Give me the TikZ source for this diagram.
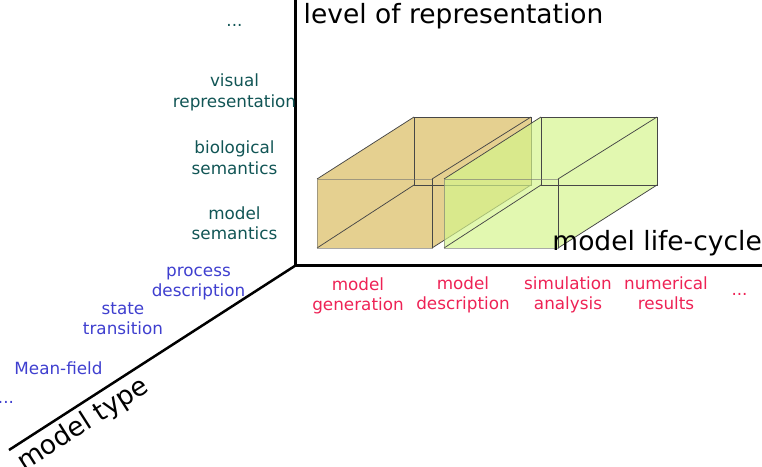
\documentclass[tikz,border=0pt]{standalone}
\usepackage{fontspec}
\setmainfont{DejaVu Sans}
\definecolor{tealc}{HTML}{115555}
\definecolor{bluec}{HTML}{3F3FCF}
\definecolor{redc}{HTML}{EE2255}
\definecolor{orfill}{HTML}{E5D090}
\definecolor{grfill}{RGB}{212,245,139}
\begin{document}
\begin{tikzpicture}[x=1pt,y=-1pt,
  axis/.style={line width=2.5pt},
  lbl/.style={font=\fontsize{16.8}{20.5}\selectfont, align=center, inner sep=0pt},
  bigl/.style={font=\fontsize{26.5}{31}\selectfont, inner sep=0pt},
  boxedge/.style={draw=black!72, line width=0.75pt},
  frontedge/.style={draw=black!55, draw opacity=0.6, line width=0.75pt},
]
\useasboundingbox (0,0) rectangle (762,466);

% axes
\coordinate (T) at (295.5,0);
\coordinate (O) at (295.5,265.5);
\coordinate (R) at (762,265.5);
\coordinate (L) at (9,450);
\draw[axis] (T) -- (O) -- (R);
\draw[axis] (O) -- (L);

% orange box
\coordinate (oa) at (317,248);
\coordinate (ob) at (317,179);
\coordinate (oc) at (432,179);
\coordinate (od) at (432,248);
\coordinate (oe) at (414,185);
\coordinate (of) at (414,117);
\coordinate (og) at (531,117);
\coordinate (oh) at (531,185);
\fill[orfill] (oa) -- (ob) -- (of) -- (og) -- (oh) -- (od) -- cycle;
\draw[boxedge] (oe) -- (of) -- (og) -- (oh) -- cycle;
\draw[boxedge] (oa) -- (oe) (ob) -- (of) (oc) -- (og) (od) -- (oh);
\draw[frontedge] (oa) -- (ob) -- (oc) -- (od) -- cycle;
\draw[boxedge] (oc) -- (od);

% green box
\coordinate (ga) at (444,248);
\coordinate (gb) at (444,179);
\coordinate (gc) at (558,179);
\coordinate (gd) at (558,248);
\coordinate (ge) at (541,185);
\coordinate (gf) at (541,117);
\coordinate (gg) at (657,117);
\coordinate (gh) at (657,185);
\fill[grfill, fill opacity=0.68] (ga) -- (gb) -- (gf) -- (gg) -- (gh) -- (gd) -- cycle;
\draw[boxedge] (ge) -- (gf) -- (gg) -- (gh) -- cycle;
\draw[boxedge] (ga) -- (ge) (gb) -- (gf) (gc) -- (gg) (gd) -- (gh);
\draw[frontedge] (ga) -- (gb) -- (gc) -- (gd) -- cycle;
\draw[boxedge] (gc) -- (gd);

% axis titles
\node[bigl, anchor=base west] (tlev) at (303.5,23) {level of representation};
\node[bigl, anchor=base east] (tlife) at (762,250) {model life-cycle};
\node[bigl, anchor=center, rotate=32.5] (ttype) at (83.5,424.5) {model type};

% level of representation labels
\node[lbl, text=tealc, anchor=base] (r0) at (234.5,26.5) {...};
\node[lbl, text=tealc] (r1) at (234.5,93) {\strut visual\\\strut representation};
\node[lbl, text=tealc] (r2) at (234.5,160) {\strut biological\\\strut semantics};
\node[lbl, text=tealc] (r3) at (234.5,225.6) {\strut model\\\strut semantics};

% model type labels
\node[lbl, text=bluec] (m1) at (198.5,282.2) {\strut process\\\strut description};
\node[lbl, text=bluec] (m2) at (123,320.2) {\strut state\\\strut transition};
\node[lbl, text=bluec, anchor=base] (m3) at (58.5,374.3) {Mean-field};
\node[lbl, text=bluec, anchor=base] (m4) at (6,403.5) {...};

% life-cycle labels
\node[lbl, text=redc] (c1) at (358,296.6) {\strut model\\\strut generation};
\node[lbl, text=redc] (c2) at (463,295.6) {\strut model\\\strut description};
\node[lbl, text=redc] (c3) at (568,295.6) {\strut simulation\\\strut analysis};
\node[lbl, text=redc] (c4) at (666,295.6) {\strut numerical\\\strut results};
\node[lbl, text=redc, anchor=base] (c5) at (739.5,295) {...};
\end{tikzpicture}
\end{document}
